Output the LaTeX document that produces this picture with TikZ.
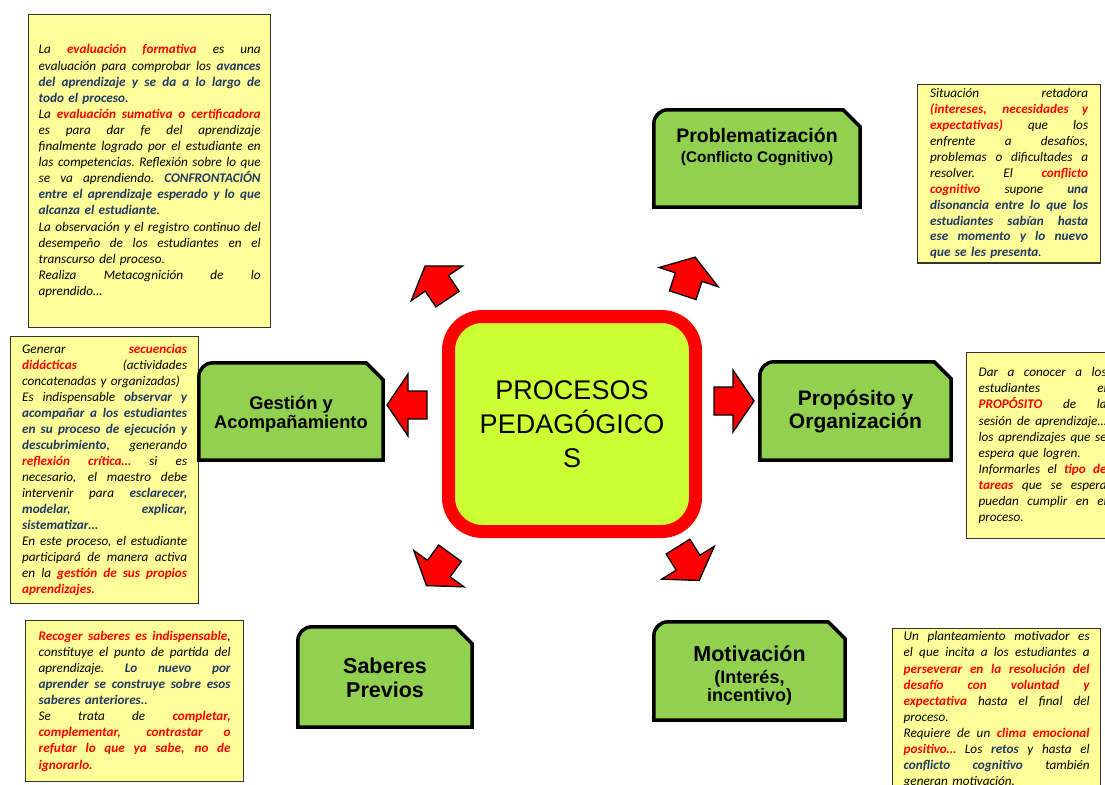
\documentclass[tikz,border=0pt]{standalone}
\usepackage{fontspec}
\newfontfamily\carl{Carlito}
\newfontfamily\arial{Liberation Sans}
\definecolor{byel}{HTML}{FFFF99}
\definecolor{gfill}{HTML}{92D050}
\definecolor{cfill}{HTML}{CCFF33}
\definecolor{dblue}{HTML}{1F3864}
\definecolor{rred}{HTML}{FF0000}
\newcommand\R[1]{{\bfseries\color{rred}#1}}
\newcommand\B[1]{{\bfseries\color{dblue}#1}}
\newdimen\jw
\newcommand\jl[1]{\leavevmode\hbox to \jw{\spaceskip=0.23em plus 1fil\relax\xspaceskip=0.23em plus 1fil\relax #1}}
\newcommand\gframe[1]{\draw[gline] (#1.south west) -- ([yshift=-14pt]#1.north west) arc[start angle=180,end angle=90,radius=14pt] -- ([xshift=-17pt]#1.north east) -- ([yshift=-17pt]#1.north east) -- (#1.south east) -- cycle;}
\tikzset{
  tbox/.style={draw=black!80, line width=1.3pt, fill=byel, align=left, anchor=north west,
    font=\carl\itshape\fontsize{13.2}{16.1}\selectfont, inner ysep=4pt},
  gnode/.style={inner sep=0pt, draw=none},
  gline/.style={fill=gfill, draw=black, line width=3.5pt, line join=miter},
  gtext/.style={align=center, inner sep=0pt},
  cbox/.style={draw=rred, line width=13pt, fill=cfill, rounded corners=34pt,
    minimum width=247pt, minimum height=215pt, align=center,
    font=\arial\fontsize{27}{34}\selectfont},
  redarr/.pic={\draw[fill=rred, draw=black, line width=1.3pt, line join=miter]
    (-17,-14) -- (2,-14) -- (2,-31) -- (23,0) -- (2,31) -- (2,14) -- (-17,14) -- cycle;}
}
\begin{document}
\begin{tikzpicture}[x=1pt,y=-1pt]
\useasboundingbox (0,0) rectangle (1105,784);
\clip (0,0) rectangle (1105,784);
\fill[white] (0,0) rectangle (1105,784);

% text boxes
\global\jw=222pt
\node[tbox, text width=222pt, minimum width=242pt, minimum height=313pt, inner xsep=10pt] (tl) at (28,14) {%
\jl{La \R{evaluación formativa} es una}\\
\jl{evaluación para comprobar los \B{avances}}\\
\jl{\B{del aprendizaje y se da a lo largo de}}\\
\B{todo el proceso.}\\
\jl{La \R{evaluación sumativa o certificadora}}\\
\jl{es para dar fe del aprendizaje}\\
\jl{finalmente logrado por el estudiante en}\\
\jl{las competencias. Reflexión sobre lo que}\\
\jl{se va aprendiendo. \B{CONFRONTACIÓN}}\\
\jl{\B{entre el aprendizaje esperado y lo que}}\\
\B{alcanza el estudiante}.\\
\jl{La observación y el registro continuo del}\\
\jl{desempeño de los estudiantes en el}\\
transcurso del proceso.\\
\jl{Realiza Metacognición de lo}\\
aprendido…};

\global\jw=158pt
\node[tbox, font=\carl\itshape\fontsize{13.2}{15.9}\selectfont, text width=158pt, minimum width=183pt, minimum height=178pt, inner xsep=12.5pt] (tr) at (917,84) {%
\jl{Situación retadora}\\
\jl{\R{(intereses, necesidades y}}\\
\jl{\R{expectativas)} que los}\\
\jl{enfrente a desafíos,}\\
\jl{problemas o dificultades a}\\
\jl{resolver. El \R{conflicto}}\\
\jl{\R{cognitivo} supone \B{una}}\\
\jl{\B{disonancia entre lo que los}}\\
\jl{\B{estudiantes sabían hasta}}\\
\jl{\B{ese momento y lo nuevo}}\\
\B{que se les presenta}.};

\global\jw=165pt
\node[tbox, font=\carl\itshape\fontsize{13.2}{16}\selectfont, text width=165pt, minimum width=188pt, minimum height=267pt, inner xsep=11.5pt] (ml) at (10,336) {%
\jl{Generar \R{secuencias}}\\
\jl{\R{didácticas} (actividades}\\
concatenadas y organizadas)\\
\jl{Es indispensable \B{observar y}}\\
\jl{\B{acompañar a los estudiantes}}\\
\jl{\B{en su proceso de ejecución y}}\\
\jl{\B{descubrimiento}, generando}\\
\jl{\R{reflexión crítica…} si es}\\
\jl{necesario, el maestro debe}\\
\jl{intervenir para \B{esclarecer,}}\\
\jl{\B{modelar, explicar,}}\\
\B{sistematizar…}\\
\jl{En este proceso, el estudiante}\\
\jl{participará de manera activa}\\
\jl{en la \R{gestión de sus propios}}\\
\R{aprendizajes.}};

\global\jw=128pt
\node[tbox, text width=128pt, minimum width=152pt, minimum height=186pt, inner xsep=12pt] (mr) at (966,352) {%
\jl{Dar a conocer a los}\\
\jl{estudiantes el}\\
\jl{\R{PROPÓSITO} de la}\\
\jl{sesión de aprendizaje…}\\
\jl{los aprendizajes que se}\\
espera que logren.\\
\jl{Informarles el \R{tipo de}}\\
\jl{\R{tareas} que se espera}\\
\jl{puedan cumplir en el}\\
proceso.};

\global\jw=192pt
\node[tbox, text width=192pt, minimum width=218pt, minimum height=161pt, inner xsep=13pt] (bl) at (25,620) {%
\jl{\R{Recoger saberes es indispensable},}\\
\jl{constituye el punto de partida del}\\
\jl{aprendizaje. \B{Lo nuevo por}}\\
\jl{\B{aprender se construye sobre esos}}\\
\B{saberes anteriores..}\\
\jl{Se trata de \R{completar,}}\\
\jl{\R{complementar, contrastar o}}\\
\jl{\R{refutar lo que ya sabe, no de}}\\
\R{ignorarlo.}};

\global\jw=186pt
\node[tbox, text width=186pt, minimum width=208pt, inner xsep=11pt, inner ysep=3pt] (br) at (892,628) {%
\jl{Un planteamiento motivador es}\\
\jl{el que incita a los estudiantes a}\\
\jl{\R{perseverar en la resolución del}}\\
\jl{\R{desafío con voluntad y}}\\
\jl{\R{expectativa} hasta el final del}\\
proceso.\\
\jl{Requiere de un \R{clima emocional}}\\
\jl{\R{positivo…} Los \B{retos} y hasta el}\\
\jl{\B{conflicto cognitivo} también}\\
generan motivación.\\ \mbox{}};

% green boxes
\node[gnode, minimum width=206pt, minimum height=97pt] (prob) at (757,158.5) {};
\gframe{prob}
\node[gtext, font=\arial\bfseries\fontsize{15.4}{20}\selectfont] (probT) at (757,147) {{\fontsize{19.5}{20}\selectfont Problematización}\\(Conflicto Cognitivo)};

\node[gnode, minimum width=191pt, minimum height=98pt] (prop) at (855.5,411) {};
\gframe{prop}
\node[gtext, font=\arial\bfseries\fontsize{21}{23}\selectfont] (propT) at (855.5,412) {Propósito y\\Organización};

\node[gnode, minimum width=184pt, minimum height=97pt] (gest) at (291,411.5) {};
\gframe{gest}
\node[gtext, font=\arial\bfseries\fontsize{18.3}{19.5}\selectfont] (gestT) at (291,414) {Gestión y\\Acompañamiento};

\node[gnode, minimum width=174pt, minimum height=100pt] (sab) at (385,677) {};
\gframe{sab}
\node[gtext, font=\arial\bfseries\fontsize{21.5}{24}\selectfont] (sabT) at (385,678) {Saberes\\Previos};

\node[gnode, minimum width=191pt, minimum height=98pt] (mot) at (749.5,671) {};
\gframe{mot}
\node[gtext, font=\arial\bfseries\fontsize{18}{17.5}\selectfont] (motT) at (749.5,675) {{\fontsize{21.5}{18}\selectfont Motivación}\\[5pt](Interés,\\incentivo)};

% center
\node[cbox] (c) at (572,424) {PROCESOS\\PEDAGÓGICO\\S};

% arrows
\pic[rotate=124] at (438,285) {redarr};
\pic[rotate=72] at (688,279) {redarr};
\pic[rotate=180] at (410,405) {redarr};
\pic[rotate=0] at (731,401) {redarr};
\pic[rotate=234] at (440,567) {redarr};
\pic[rotate=302] at (687,561) {redarr};
\end{tikzpicture}
\end{document}
